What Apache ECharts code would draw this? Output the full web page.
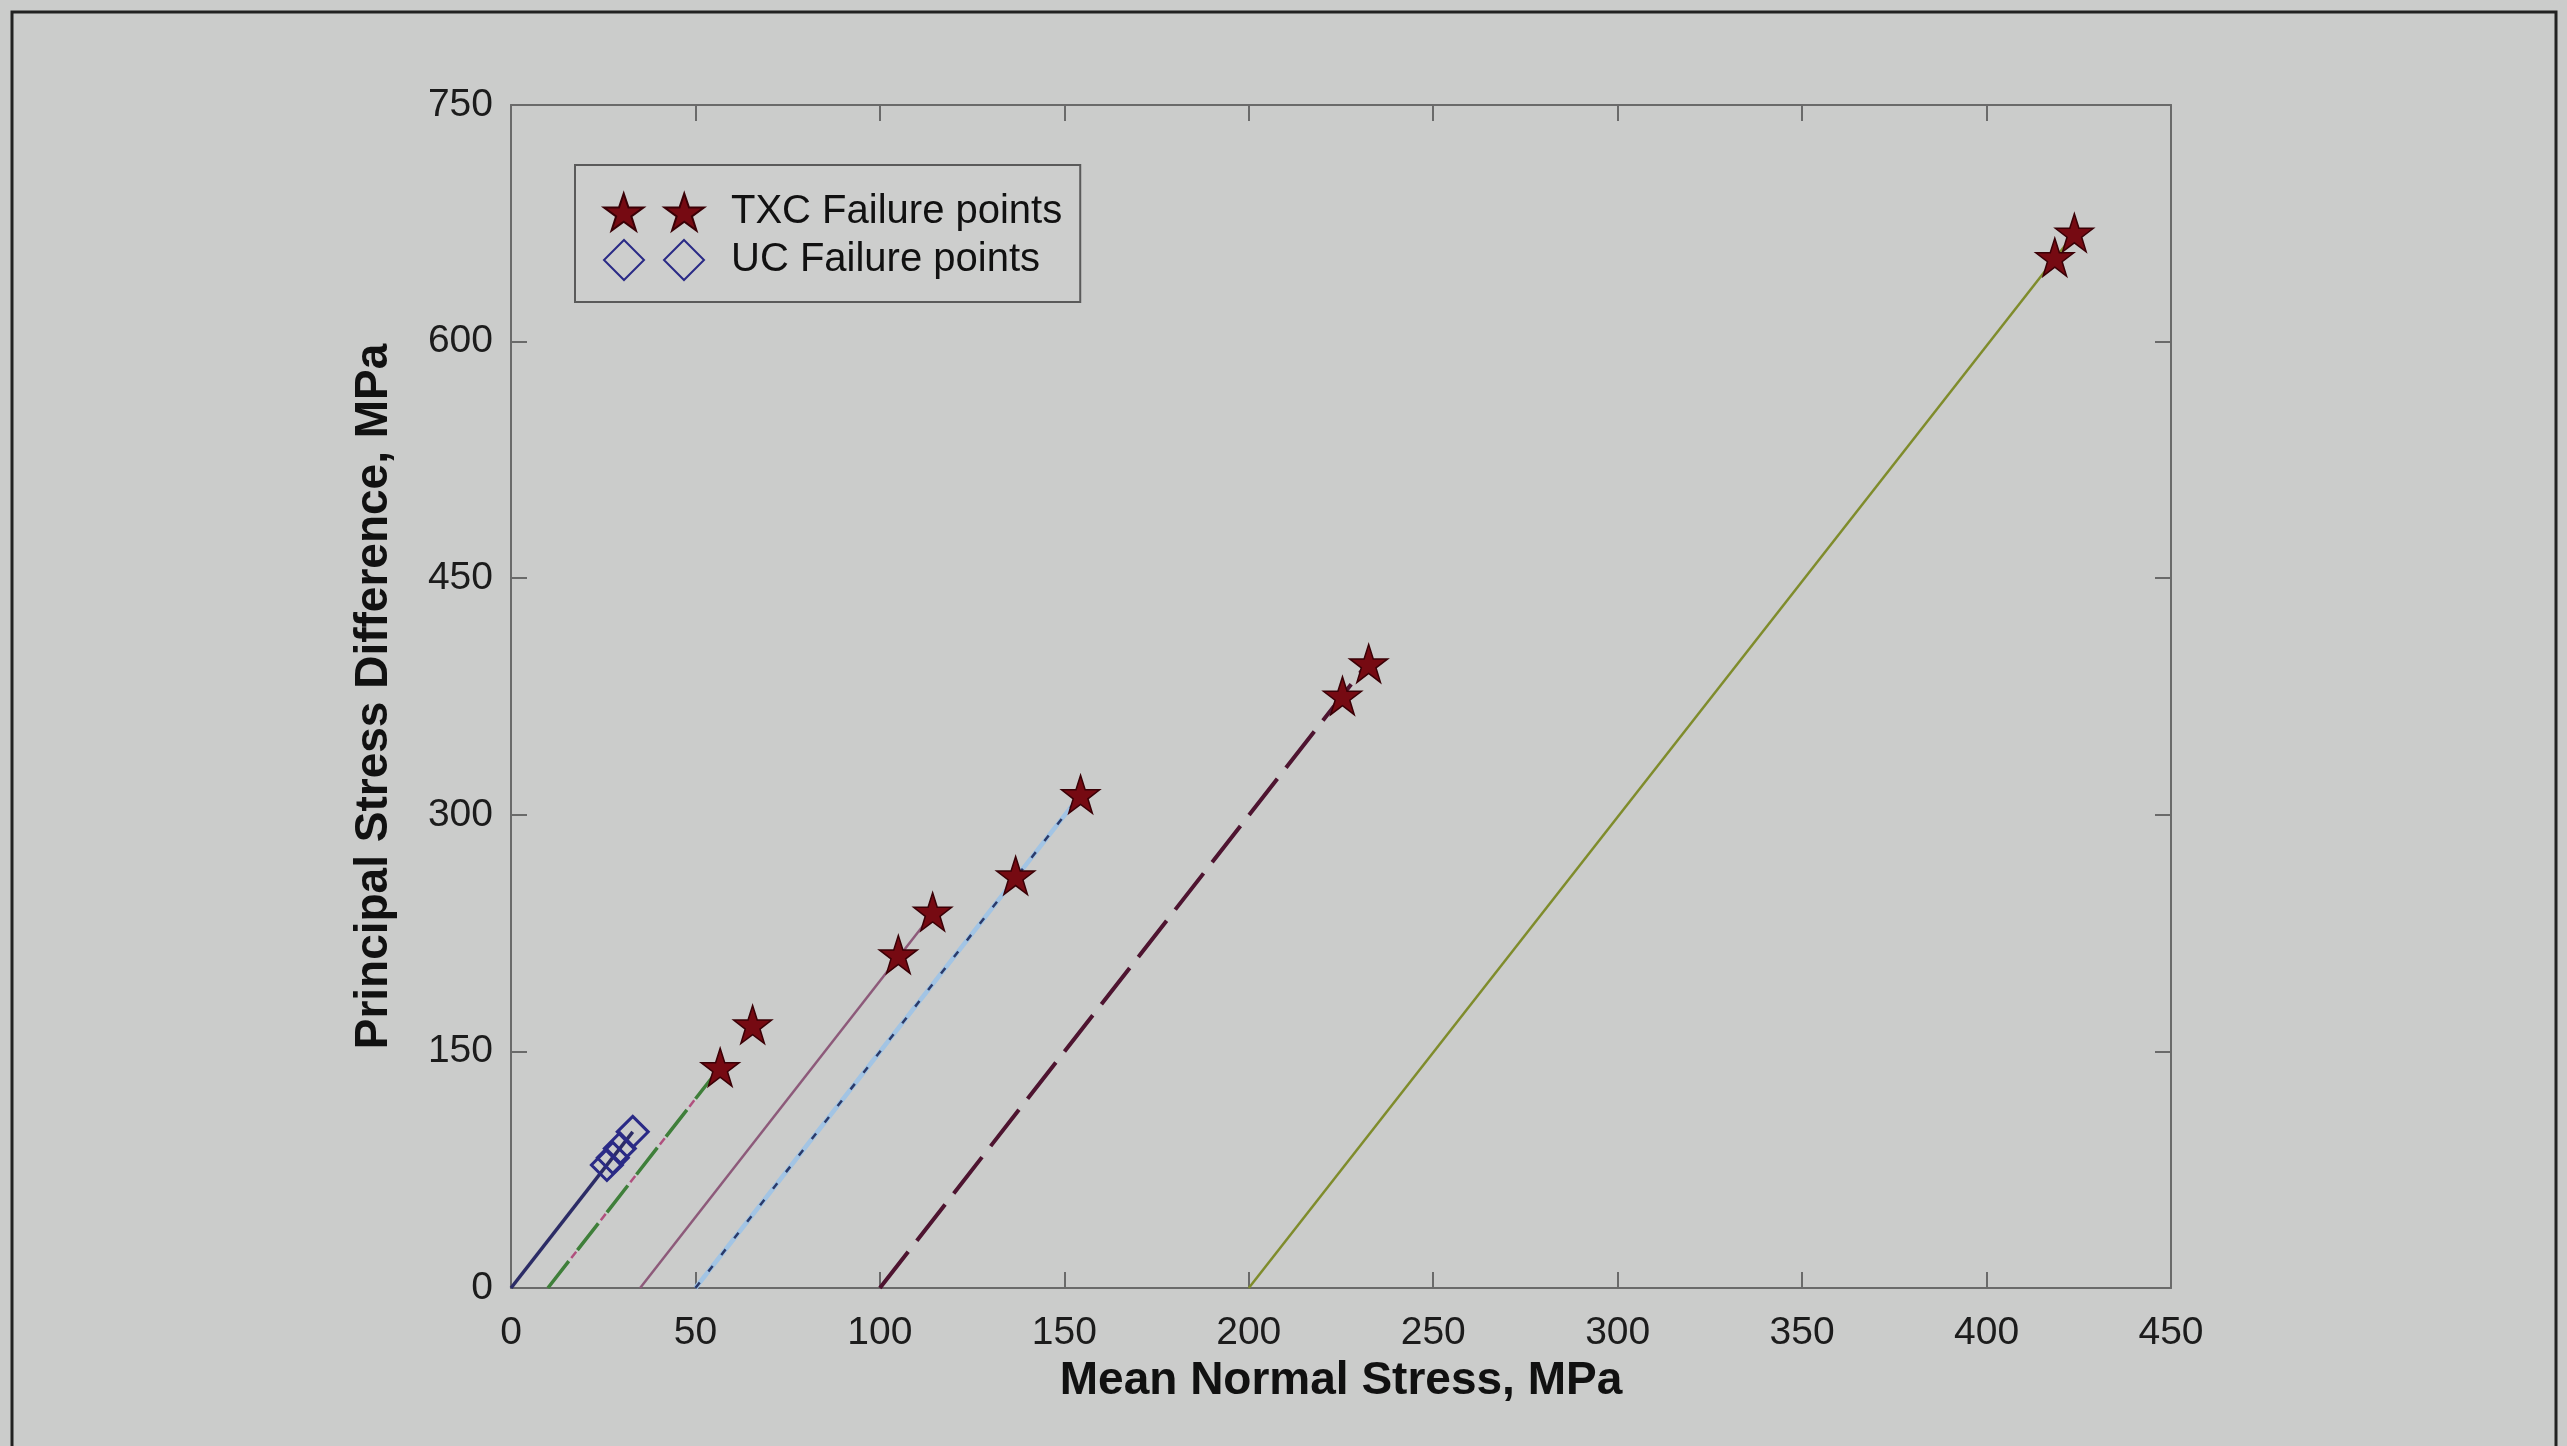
<!DOCTYPE html>
<html>
<head>
<meta charset="utf-8">
<script src="https://cdn.jsdelivr.net/npm/echarts@6/dist/echarts.min.js"></script>
<style>
    html, body { margin: 0; padding: 0; background: #cbcccb; }
    #chart { width: 2567px; height: 1446px; }
</style>
</head>
<body>
<div id="chart"></div>
<script>
    // confining pressure of each load path (start point on the mean stress axis)
    let confining = [0, 10, 35, 50, 100, 200];
    // end point of each load path
    let pathEndMean = [33, 56.7, 114.5, 154.5, 232.5, 424];
    let pathEndDiff = [99, 140, 238, 313, 397, 669];

    // triaxial compression failure points
    let txcMean = [56.7, 65.5, 105, 114.3, 136.8, 154.4, 225.4, 232.5, 418.5, 423.8];
    let txcDiff = [140, 167, 211.5, 238.5, 261.5, 313, 375.5, 396, 653.5, 669];

    // unconfined compression failure points
    let ucMean = [26, 27.6, 29.5, 33];
    let ucDiff = [78, 82.5, 88.5, 99];

    let xTicks = [0, 450, 50];
    let yTicks = [0, 750, 150];

    let starPath = 'path://M50,0 L61.8,35.1 L98.9,35.1 L68.9,56.8 L80.3,91.9 L50,70.2 L19.7,91.9 L31.1,56.8 L1.1,35.1 L38.2,35.1 Z';
    let twoStars = 'path://M50,0 L61.8,35.1 L98.9,35.1 L68.9,56.8 L80.3,91.9 L50,70.2 L19.7,91.9 L31.1,56.8 L1.1,35.1 L38.2,35.1 Z ' +
        'M200,0 L211.8,35.1 L248.9,35.1 L218.9,56.8 L230.3,91.9 L200,70.2 L169.7,91.9 L181.1,56.8 L151.1,35.1 L188.2,35.1 Z';
    let twoDiamonds = 'path://M50,0 L100,50 L50,100 L0,50 Z M200,0 L250,50 L200,100 L150,50 Z';

    // line look of every load path, same order as confining
    let pathStyles = [
        {color: '#2c2c66', width: 3.5, type: 'solid'},
        {color: '#3f7f3a', width: 3.5, type: [34, 14]},
        {color: '#8d5a7a', width: 2.5, type: 'solid'},
        {color: '#a2c4e4', width: 4.5, type: 'solid'},
        {color: '#4e1430', width: 4, type: [46, 14]},
        {color: '#7f8c2c', width: 2.5, type: 'solid'}
    ];

    let series = [];
    confining.forEach(function (p0, i) {
        series.push({
            type: 'line',
            silent: true,
            symbol: 'none',
            z: 2,
            lineStyle: pathStyles[i],
            data: [[p0, 0], [pathEndMean[i], pathEndDiff[i]]]
        });
    });
    // dark dots on the light blue path
    series.push({
        type: 'line',
        silent: true,
        symbol: 'none',
        z: 3,
        lineStyle: {color: '#2a3a6a', width: 2.5, type: [7, 14]},
        data: [[confining[3], 0], [pathEndMean[3], pathEndDiff[3]]]
    });
    // pink segments in the gaps of the green path
    series.push({
        type: 'line',
        silent: true,
        symbol: 'none',
        z: 2,
        lineStyle: {color: '#b0507e', width: 2.5, type: [8, 40], dashOffset: -38},
        data: [[confining[1], 0], [pathEndMean[1], pathEndDiff[1]]]
    });

    series.push({
        name: 'TXC Failure points',
        type: 'scatter',
        symbol: starPath,
        symbolSize: 38,
        z: 5,
        itemStyle: {color: '#760a12', borderColor: '#3a0006', borderWidth: 1.5, opacity: 1},
        data: txcMean.map(function (x, i) { return [x, txcDiff[i]]; })
    });
    series.push({
        name: 'UC Failure points',
        type: 'scatter',
        symbol: 'diamond',
        symbolSize: 31,
        z: 5,
        itemStyle: {color: 'rgba(0,0,0,0)', borderColor: '#2a2a86', borderWidth: 3, opacity: 1},
        data: ucMean.map(function (x, i) { return [x, ucDiff[i]]; })
    });

    let chart = echarts.init(document.getElementById('chart'));

    let axisFont = {fontFamily: 'Liberation Sans, Arial, sans-serif', fontSize: 39, color: '#1c1c1c'};
    let nameFont = {fontFamily: 'Liberation Sans, Arial, sans-serif', fontSize: 46, fontWeight: 'bold', color: '#111'};
    let boxLine = {show: true, onZero: false, lineStyle: {color: '#6a6a6a', width: 2}};
    let boxTick = {show: true, inside: true, length: 16, lineStyle: {color: '#6a6a6a', width: 2}};

    let option = {
        backgroundColor: '#cbcccb',
        animation: false,
        grid: {left: 511, top: 105, right: 396, bottom: 158},
        graphic: [{
            type: 'rect',
            shape: {x: 12, y: 12, width: 2544, height: 1500},
            style: {fill: 'none', stroke: '#222', lineWidth: 3}
        }],
        legend: {
            orient: 'vertical',
            left: 575,
            top: 165,
            padding: [27, 18, 21, 28],
            itemWidth: 100,
            itemGap: 7,
            itemHeight: 40,
            backgroundColor: '#cdcecd',
            borderColor: '#5a5a5a',
            borderWidth: 2,
            textStyle: {fontFamily: 'Liberation Sans, Arial, sans-serif', fontSize: 40, color: '#111', padding: [0, 0, 0, 22]},
            data: [
                {name: 'TXC Failure points', icon: twoStars},
                {name: 'UC Failure points', icon: twoDiamonds}
            ]
        },
        xAxis: [{
            type: 'value',
            min: xTicks[0], max: xTicks[1], interval: xTicks[2],
            name: 'Mean Normal Stress, MPa',
            nameLocation: 'middle',
            nameGap: 70,
            nameTextStyle: nameFont,
            axisLine: boxLine,
            axisTick: boxTick,
            axisLabel: Object.assign({margin: 26}, axisFont),
            splitLine: {show: false}
        }, {
            type: 'value',
            position: 'top',
            min: xTicks[0], max: xTicks[1], interval: xTicks[2],
            axisLine: boxLine,
            axisTick: boxTick,
            axisLabel: {show: false},
            splitLine: {show: false}
        }],
        yAxis: [{
            type: 'value',
            min: yTicks[0], max: yTicks[1], interval: yTicks[2],
            name: 'Principal Stress Difference, MPa',
            nameLocation: 'middle',
            nameGap: 114,
            nameTextStyle: nameFont,
            axisLine: boxLine,
            axisTick: boxTick,
            axisLabel: Object.assign({margin: 18}, axisFont),
            splitLine: {show: false}
        }, {
            type: 'value',
            position: 'right',
            min: yTicks[0], max: yTicks[1], interval: yTicks[2],
            axisLine: boxLine,
            axisTick: boxTick,
            axisLabel: {show: false},
            splitLine: {show: false}
        }],
        series: series
    };

    chart.setOption(option, true);
    window.onresize = () => {
        chart.resize();
    };
</script>
</body>
</html>
